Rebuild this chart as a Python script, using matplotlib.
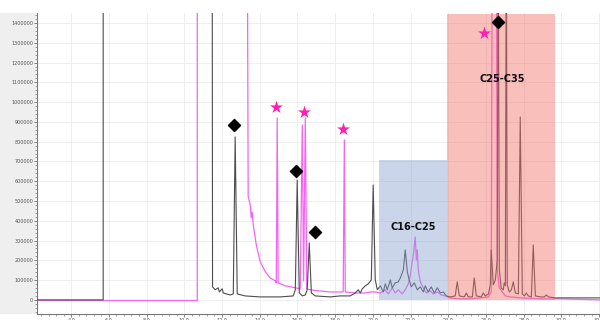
import matplotlib.pyplot as plt
from matplotlib.patches import Rectangle
from matplotlib.ticker import MultipleLocator

# retention time (min) and abundance, black trace
black_t = [2.20, 5.70, 5.70, 11.48, 11.50, 11.64, 11.80, 11.86, 12.01, 12.07, 12.23, 12.44,
           12.60, 12.70, 12.81, 13.23, 14.03, 15.09, 15.78, 15.89, 15.99, 16.10, 16.26, 16.42,
           16.52, 16.63, 16.74, 16.95, 17.74, 18.27, 18.80, 19.07, 19.23, 19.34, 19.44, 19.60,
           19.76, 19.92, 20.02, 20.13, 20.24, 20.40, 20.56, 20.66, 20.77, 20.93, 21.03, 21.19,
           21.35, 21.46, 21.62, 21.72, 21.83, 21.93, 22.04, 22.20, 22.36, 22.52, 22.68, 22.78,
           22.94, 23.10, 23.26, 23.42, 23.58, 23.74, 23.90, 24.11, 24.37, 24.48, 24.59, 24.85,
           24.96, 25.06, 25.28, 25.38, 25.49, 25.75, 25.86, 25.97, 26.13, 26.23, 26.28, 26.39,
           26.50, 26.60, 26.65, 26.71, 26.81, 26.92, 26.97, 27.03, 27.08, 27.13, 27.24, 27.35,
           27.45, 27.56, 27.72, 27.82, 27.93, 28.04, 28.14, 28.25, 28.41, 28.51, 28.62, 28.88,
           29.10, 29.20, 29.31, 29.68, 32.07]
black_y = [0, 0, 2000000, 2000000, 66000, 51000, 61000, 40000, 56000, 35000, 30000, 25000,
           30000, 824000, 30000, 20000, 15000, 15000, 20000, 51000, 606000, 35000, 20000, 25000,
           51000, 288000, 35000, 20000, 15000, 20000, 20000, 35000, 51000, 35000, 56000, 71000,
           81000, 101000, 581000, 101000, 51000, 71000, 40000, 81000, 51000, 101000, 61000, 86000,
           91000, 111000, 152000, 253000, 142000, 101000, 66000, 86000, 51000, 66000, 40000, 71000,
           40000, 66000, 35000, 61000, 35000, 40000, 20000, 15000, 20000, 91000, 20000, 15000,
           35000, 15000, 15000, 111000, 20000, 15000, 35000, 20000, 30000, 76000, 253000, 76000,
           101000, 202000, 2000000, 152000, 61000, 51000, 86000, 71000, 2000000, 76000, 40000, 51000,
           91000, 35000, 30000, 925000, 30000, 20000, 35000, 20000, 15000, 278000, 20000, 15000,
           15000, 25000, 15000, 10000, 10000]

# magenta trace
pink_t = [2.20, 10.69, 10.69, 13.34, 13.39, 13.44, 13.50, 13.55, 13.60, 13.66, 13.82, 14.03,
          14.30, 14.56, 14.83, 14.88, 14.93, 14.98, 15.36, 15.89, 16.15, 16.26, 16.33, 16.42,
          16.50, 16.68, 17.21, 17.74, 18.27, 18.43, 18.49, 18.54, 19.07, 19.60, 19.87, 20.13,
          20.40, 20.66, 20.82, 21.03, 21.19, 21.35, 21.56, 21.72, 21.88, 21.99, 22.09, 22.15,
          22.25, 22.31, 22.36, 22.41, 22.52, 22.68, 22.84, 23.05, 23.21, 23.42, 23.63, 23.84,
          24.11, 24.64, 25.17, 25.70, 26.13, 26.28, 26.34, 26.55, 26.60, 26.71, 27.03, 27.29,
          27.82, 28.88, 29.95, 32.07]
pink_y = [-3000, -3000, 2000000, 2000000, 521000, 505000, 480000, 414000, 445000, 379000, 278000, 192000,
          142000, 111000, 96000, 86000, 920000, 86000, 71000, 61000, 56000, 884000, 96000, 920000,
          56000, 51000, 45000, 40000, 40000, 40000, 809000, 40000, 35000, 35000, 40000, 40000,
          35000, 51000, 30000, 61000, 35000, 51000, 30000, 51000, 81000, 126000, 192000, 227000,
          318000, 202000, 253000, 152000, 91000, 61000, 35000, 45000, 30000, 40000, 25000, 20000,
          10000, 5000, 5000, 10000, 15000, 40000, 2000000, 2000000, 152000, 61000, 20000, 15000,
          10000, 5000, 5000, 0]

diamond_t = [12.65, 15.94, 16.95, 26.66]
diamond_y = [884000, 652000, 344000, 1405000]
star_t = [14.88, 16.36, 18.43, 25.91]
star_y = [975000, 950000, 864000, 1349000]

regions = ['C16-C25', 'C25-C35']
region_start = [20.34, 23.95]
region_end = [23.95, 29.68]
region_top = [708000, 1445000]
region_color = ['#8aa3d0', '#f0716a']
label_t = [22.15, 26.87]
label_y = [369000, 1117000]

fig = plt.figure(figsize=(6, 3.2), dpi=100)
fig.patches.append(Rectangle((0, 0.022), 0.058, 0.937, transform=fig.transFigure,
                             color='#efefef', zorder=-5))
ax = fig.add_axes([0.062, 0.019, 0.938, 0.940])

ax.plot(pink_t, pink_y, color='#f266f2', lw=0.9, zorder=2)
ax.plot(black_t, black_y, color='#4d4d4d', lw=0.8, zorder=3)

for i in range(len(regions)):
    ax.add_patch(Rectangle((region_start[i], 0), region_end[i] - region_start[i],
                           region_top[i], color=region_color[i], alpha=0.45, lw=0, zorder=4))
    ax.text(label_t[i], label_y[i], regions[i], ha='center', va='center',
            fontsize=7, fontweight='bold', color='#111111', zorder=6)

ax.scatter(diamond_t, diamond_y, marker='D', s=38, color='black', zorder=7)
ax.scatter(star_t, star_y, marker='*', s=95, color='#ff1fb4', lw=0, zorder=7)

ax.set_xlim(2.2, 32.05)
ax.set_ylim(-71000, 1450000)
ax.xaxis.set_major_locator(MultipleLocator(2))
ax.xaxis.set_minor_locator(MultipleLocator(0.4))
ax.yaxis.set_major_locator(MultipleLocator(100000))
ax.yaxis.set_minor_locator(MultipleLocator(20000))
ax.xaxis.set_major_formatter(lambda v, p: f'{v:.1f}')
ax.yaxis.set_major_formatter(lambda v, p: f'{int(v)}')
ax.tick_params(labelsize=3.5, colors='#555555', length=2, width=0.5, pad=1)
ax.tick_params(which='minor', length=1.2, width=0.4, colors='#555555')
ax.grid(True, color='#ececec', lw=0.6, zorder=0)
ax.set_axisbelow(True)
for s in ['top', 'right']:
    ax.spines[s].set_visible(False)
for s in ['left', 'bottom']:
    ax.spines[s].set_color('#777777')
    ax.spines[s].set_linewidth(0.8)

fig.savefig('out.png', dpi=100)
